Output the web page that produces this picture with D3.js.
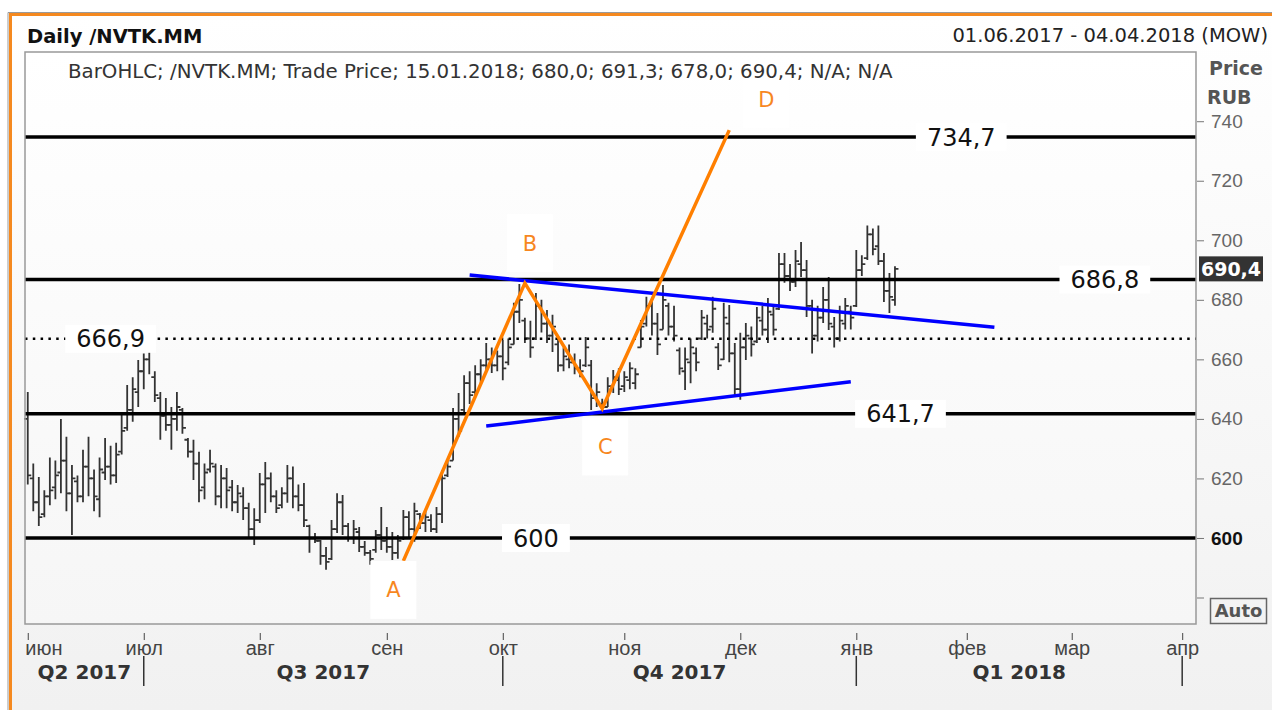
<!DOCTYPE html>
<html>
<head>
<meta charset="utf-8">
<script src="https://cdn.jsdelivr.net/npm/d3@7"></script>
<style>
  body { margin: 0; background: #fff; }
  svg { display: block; font-family: "DejaVu Sans", sans-serif; }
</style>
</head>
<body>
<svg id="chart" width="1272" height="710"></svg>
<script>
const title = "Daily /NVTK.MM";
const dateRange = "01.06.2017 - 04.04.2018 (MOW)";
const legendText = "BarOHLC; /NVTK.MM; Trade Price; 15.01.2018; 680,0; 691,3; 678,0; 690,4; N/A; N/A";

// trading calendar (MOEX holidays skipped)
const firstDay = "2017-06-01";
const lastDay = "2018-04-04";
const holidays = ["2017-06-12", "2017-11-06", "2018-01-01", "2018-01-02", "2018-01-08",
  "2018-02-23", "2018-03-08", "2018-03-09"];

const monthLabels = ["июн", "июл", "авг", "сен", "окт", "ноя", "дек", "янв", "фев", "мар", "апр"];
const quarterLabels = ["Q2 2017", "Q3 2017", "Q4 2017", "Q1 2018"];
const priceTicks = [580, 600, 620, 640, 660, 680, 700, 720, 740];
const lastPrice = 690.4;
const lastPriceLabel = "690,4";

// daily bars from 01.06.2017, [open, high, low, close]
const bars = [
  [640,649,618,621],[620,625,609,612],[612,620.5,604,607],[608,616,607,614],[614,627,611,616],
  [617,626,613,621],[622,640,615,626],[626,634,609,615],[615,624.5,601,620],[619,621,612,614],
  [614,629.6,612,624],[624,634,614,620],[620,623,609,614],[613,627,607,623],[622,633.6,619.5,624],
  [624,631,618,621],[621,632,618.5,628],[629,642,628,636],[637,651.4,636,643],[643,654,639,650],
  [649,659.8,644,656],[656,662,650,660],[660,666.9,655,664],[654,656,645.7,648],[647,649,633,641],
  [641,647,636,638],[638,644,629.6,640],[640,649,636,644],[643,643.7,635,637],[633,633.6,627,629],
  [629,633,619.5,625],[625,629,612,616],[617,625,613,622],[623,629.6,622,625],[624,625,611,614],
  [614,624.5,610,620],[620,623.5,610,616],[617,619.5,609,612],[612,617.8,608.4,615],[614,617,606,610],
  [610,611.8,600.3,603],[603,610,597.6,606],[606,621.8,605,618],[618,625.5,608.4,620],[620,622,612,614],
  [614,616,608.4,610],[611,617,610,615],[615,624.5,611.8,620],[620,624,610,614],[614,618,609,611],
  [611,618.5,603.7,606],[604,604.4,595,600],[600,601.7,598.3,599],[599,599.3,591,594],[594,597,589.3,592],
  [593,606,592.6,603],[603,615,601.7,612],[612,614.4,601,604],[604,605,598.7,600],[600,606,598,603],
  [602,603.7,595.3,597],[597,599,594,595],[595,596,591,593],[596,602.7,595,601],[601,610.4,596,599],
  [599,603.7,595,597],[597,602,592.6,595],[595,601,593,599],[600,609.4,599.3,607],[607,609,600,603],
  [603,611.8,598.7,609],[608,608.4,603,605],[605,609,602,607],[606,608,602,603],[603,610.4,601.7,608],
  [608,622.8,605,620],[621,626,620.5,624],[626,643.7,626,640],[640,648.7,634,636],[643,654.7,642,652],
  [652,656,645,648],[649,658,648,655],[655,660,652,658],[658,665.5,656.4,660],[660,664,655.4,658],
  [658,663,656,661],[661,666.5,653,657],[659,667,658,664],[665,679,665,676],[676,685.3,672.2,680],
  [673,674,665.5,667],[667,673,660.5,664],[667,682.3,666.5,678],[678,680,669,672],[672,676.6,665.5,668],
  [668,675,662.5,671],[665,666.5,655.8,658],[658,664,656,661],[660,665,657,659],[659,662,655,657],
  [657,660,654,656],[658,667.5,657.4,664],[658,659.8,643,647],[647,652,644,649],[645,646.8,641.7,644],
  [644,654,644,651],[650,656.4,648.7,654],[653,657,648,650],[651,656,649,654],[653,659,650,657],
  [652,657,650,655],[664,673.2,664,671],[672,681,671,678],[678,680,668,672],[672,675.6,661.5,665],
  [670,685,670,680],[678,679,668,671],[671,678,666,668],[663,664,654.8,657],[656,664,649.7,660],
  [659,667,652,664],[662,664,656,659],[667,676.6,666.5,674],[672,675,667,670],[671,681,668.9,677],
  [664,665.5,656.4,658],[660,679,659.8,674],[672,678.3,659,662],[662,665.5,647.4,650],[650,668.9,646.4,664],
  [664,672.2,659.8,668],[667,671,661,665],[666,677.6,665.5,674],[673,678,668,670],[670,680.6,665.5,676],
  [675,678,668,670],[677,695.7,676.6,692],[692,695.7,685.7,688],[688,692,683,686],[686,696.7,684.3,693],
  [692,699.4,687.7,690],[690,693.4,674.2,678],[678,680,662,668],[668,678,666,674],[674,684.3,672.2,680],
  [680,687.7,669.9,672],[671,674.2,664,667],[667,678,666,673],[672,680.6,670,678],[676,678,670,674],
  [678,696.7,677.6,690],[690,695,688,692],[694,705,693.4,702],[702,704,695,697],[698,705,691.7,693],
  [693,695.7,679.3,683],[683,689,675.6,681],[680,691.3,678,690.4]
];

// horizontal levels and the date their label sits on
const levelValues = [734.7, 686.8, 666.9, 641.7, 600];
const levelLabels = ["734,7", "686,8", "666,9", "641,7", "600"];
const levelLabelDates = ["2018-01-31", "2018-03-13", "2017-06-23", "2018-01-16", "2017-10-10"];
const levelDotted = [false, false, true, false, false];

// ABCD pattern
const abcdLabels = ["A", "B", "C", "D"];
const abcdDates = ["2017-09-06", "2017-10-06", "2017-10-26", "2017-11-29"];
const abcdPrices = [592.3, 685.6, 643.5, 737];

// triangle lines
const upperLine = [["2017-09-22", 688.3], ["2018-02-08", 670.8]];
const lowerLine = [["2017-09-27", 637.6], ["2017-12-29", 652.5]];

// ---------------------------------------------------------------
const W = 1272, H = 710;
const plot = { left: 25, right: 1196, top: 52, bottom: 624 };

const svg = d3.select("#chart");
const parseDate = d3.utcParse("%Y-%m-%d");
const fmtDate = d3.utcFormat("%Y-%m-%d");
const holidaySet = new Set(holidays);

const tradingDays = d3.utcDays(parseDate(firstDay), d3.utcDay.offset(parseDate(lastDay), 1))
  .filter(d => d.getUTCDay() % 6 !== 0 && !holidaySet.has(fmtDate(d)));
const dayIndex = new Map(tradingDays.map((d, i) => [fmtDate(d), i]));
const idx = s => dayIndex.get(s);

const x = d3.scaleLinear()
  .domain([-0.5, tradingDays.length - 0.5])
  .range([plot.left, plot.right]);

const y = d3.scaleLinear()
  .domain([571.1, 763.25])
  .range([plot.bottom, plot.top]);

// backgrounds
const defs = svg.append("defs");
const bgGrad = defs.append("linearGradient").attr("id", "bgGrad")
  .attr("x1", 0).attr("y1", 0).attr("x2", 0).attr("y2", 1);
bgGrad.append("stop").attr("offset", "0%").attr("stop-color", "#ffffff");
bgGrad.append("stop").attr("offset", "100%").attr("stop-color", "#f1f1f1");
const plotGrad = defs.append("linearGradient").attr("id", "plotGrad")
  .attr("x1", 0).attr("y1", 0).attr("x2", 0).attr("y2", 1);
plotGrad.append("stop").attr("offset", "0%").attr("stop-color", "#ffffff");
plotGrad.append("stop").attr("offset", "100%").attr("stop-color", "#f6f6f6");

svg.append("rect").attr("width", W).attr("height", H).attr("fill", "#fff");
svg.append("rect").attr("x", 11).attr("y", 15).attr("width", W - 11).attr("height", H - 15)
  .attr("fill", "url(#bgGrad)");

// outer frame: grey hairline then orange
svg.append("path").attr("d", `M8,${H} V12.5 H${W}`)
  .attr("fill", "none").attr("stroke", "#9a9a9a").attr("stroke-width", 1);
svg.append("path").attr("d", `M10.5,${H} V14.5 H${W}`)
  .attr("fill", "none").attr("stroke", "#f5891f").attr("stroke-width", 3);

// header
svg.append("text").attr("x", 27).attr("y", 43)
  .attr("font-weight", "bold").attr("font-size", 19.5).attr("fill", "#111")
  .text(title);
svg.append("text").attr("x", 1268).attr("y", 42).attr("text-anchor", "end")
  .attr("font-size", 19.5).attr("fill", "#222")
  .text(dateRange);

// plot area
svg.append("rect")
  .attr("x", plot.left).attr("y", plot.top)
  .attr("width", plot.right - plot.left).attr("height", plot.bottom - plot.top)
  .attr("fill", "url(#plotGrad)");

// bars
const barG = svg.append("g").attr("stroke", "#333").attr("stroke-width", 1.8);
barG.selectAll("path").data(bars).join("path")
  .attr("fill", "none")
  .attr("d", (d, i) => {
    const cx = x(i);
    return `M${cx},${y(d[1])}V${y(d[2])}` +
      `M${cx - 3.5},${y(d[0])}H${cx}` +
      `M${cx},${y(d[3])}H${cx + 3.5}`;
  });

// horizontal levels
const levels = levelValues.map((v, i) => ({
  value: v, label: levelLabels[i], at: idx(levelLabelDates[i]), dotted: levelDotted[i]
}));
const levelG = svg.append("g");
levelG.selectAll("line").data(levels).join("line")
  .attr("x1", plot.left).attr("x2", plot.right)
  .attr("y1", d => y(d.value)).attr("y2", d => y(d.value))
  .attr("stroke", "#000")
  .attr("stroke-width", d => d.dotted ? 2.5 : 3.5)
  .attr("stroke-dasharray", d => d.dotted ? "2.5 5.3" : null);

const levelLabelG = levelG.selectAll("g.lvl").data(levels).join("g")
  .attr("class", "lvl")
  .attr("transform", d => `translate(${x(d.at)},${y(d.value)})`);
levelLabelG.append("text")
  .attr("text-anchor", "middle").attr("dy", "0.36em")
  .attr("font-size", 24).attr("fill", "#111")
  .text(d => d.label);
levelLabelG.each(function () {
  const g = d3.select(this);
  const b = g.select("text").node().getBBox();
  g.insert("rect", "text")
    .attr("x", b.x - 11).attr("y", -14)
    .attr("width", b.width + 22).attr("height", 28)
    .attr("fill", "#fff");
});

// triangle lines
const lineGen = d3.line().x(d => x(idx(d[0]))).y(d => y(d[1]));
svg.append("g").selectAll("path").data([upperLine, lowerLine]).join("path")
  .attr("d", lineGen)
  .attr("fill", "none").attr("stroke", "#0000ff").attr("stroke-width", 3.5);

// ABCD
const abcd = abcdLabels.map((l, i) => ({ label: l, i: idx(abcdDates[i]), price: abcdPrices[i] }));
svg.append("path")
  .datum(abcd)
  .attr("d", d3.line().x(d => x(d.i)).y(d => y(d.price)))
  .attr("fill", "none").attr("stroke", "#ff7f00").attr("stroke-width", 3.5)
  .attr("stroke-linejoin", "miter");

const labelOffset = { A: [-10, 29], B: [5, -40], C: [3, 38], D: [37, -31] };
const abcdLabelG = svg.append("g").selectAll("g").data(abcd).join("g")
  .attr("transform", d => `translate(${x(d.i) + labelOffset[d.label][0]},${y(d.price) + labelOffset[d.label][1]})`);
abcdLabelG.append("rect")
  .attr("x", -23).attr("y", -29).attr("width", 46).attr("height", 58)
  .attr("fill", "#fff");
abcdLabelG.append("text")
  .attr("text-anchor", "middle").attr("dy", "0.36em")
  .attr("font-size", 21).attr("fill", "#f7871f")
  .text(d => d.label);

// legend line sits on top of everything in the plot
svg.append("text").attr("x", 68).attr("y", 78)
  .attr("font-size", 19.8).attr("fill", "#333")
  .text(legendText);

// plot frame
svg.append("rect")
  .attr("x", plot.left).attr("y", plot.top)
  .attr("width", plot.right - plot.left).attr("height", plot.bottom - plot.top)
  .attr("fill", "none").attr("stroke", "#999").attr("stroke-width", 1.5);

// right price axis
const yAxis = svg.append("g")
  .attr("transform", `translate(${plot.right + 1},0)`)
  .call(d3.axisRight(y).tickValues(priceTicks).tickSize(7).tickPadding(7).tickFormat(d3.format("d")));
yAxis.select(".domain").remove();
yAxis.selectAll(".tick line").attr("stroke", "#777");
yAxis.selectAll(".tick text")
  .attr("font-family", null).attr("font-size", 19)
  .attr("display", d => d === 580 ? "none" : null)
  .attr("font-weight", d => d === 600 ? "bold" : null)
  .attr("fill", d => d === 600 ? "#111" : "#666");

svg.append("text").attr("x", 1209).attr("y", 75)
  .attr("font-weight", "bold").attr("font-size", 19).attr("fill", "#555").text("Price");
svg.append("text").attr("x", 1207).attr("y", 104)
  .attr("font-weight", "bold").attr("font-size", 19).attr("fill", "#555").text("RUB");

// last price tag
svg.append("rect").attr("x", plot.right + 3).attr("y", y(lastPrice) - 12.5)
  .attr("width", 64).attr("height", 25).attr("fill", "#333");
svg.append("text").attr("x", plot.right + 35).attr("y", y(lastPrice)).attr("dy", "0.36em")
  .attr("text-anchor", "middle").attr("font-weight", "bold").attr("font-size", 19)
  .attr("fill", "#fff").text(lastPriceLabel);

// Auto box
svg.append("rect").attr("x", 1210.5).attr("y", 598.5).attr("width", 56).attr("height", 25)
  .attr("fill", "none").attr("stroke", "#666").attr("stroke-width", 1.5);
svg.append("text").attr("x", 1238.5).attr("y", 611).attr("dy", "0.36em")
  .attr("text-anchor", "middle").attr("font-weight", "bold").attr("font-size", 18)
  .attr("fill", "#555").text("Auto");

// time axis: first trading day of every month
const monthTicks = tradingDays
  .map((d, i) => ({ d, i }))
  .filter((e, k, arr) => k === 0 || e.d.getUTCMonth() !== arr[k - 1].d.getUTCMonth());

const xAxis = svg.append("g")
  .attr("transform", `translate(0,${plot.bottom + 9})`)
  .call(d3.axisBottom(x).tickValues(monthTicks.map(e => e.i)).tickSize(7).tickPadding(1)
    .tickFormat((d, k) => monthLabels[k]));
xAxis.select(".domain").remove();
xAxis.selectAll(".tick line").attr("stroke", "#444");
xAxis.selectAll(".tick text")
  .attr("font-family", null).attr("font-size", 20).attr("fill", "#444")
  .attr("text-anchor", (d, k) => k === 0 ? "start" : "middle")
  .attr("dx", (d, k) => k === 0 ? -3 : 0);

// quarters
const quarterStarts = monthTicks.filter(e => e.d.getUTCMonth() % 3 === 0).map(e => x(e.i));
const quarterEdges = [plot.left, ...quarterStarts];
svg.append("g").selectAll("line").data(quarterStarts).join("line")
  .attr("x1", d => d).attr("x2", d => d)
  .attr("y1", 656).attr("y2", 686)
  .attr("stroke", "#333").attr("stroke-width", 1.5);
svg.append("g").selectAll("text").data(quarterLabels).join("text")
  .attr("x", (d, k) => (quarterEdges[k] + quarterEdges[k + 1]) / 2)
  .attr("y", 672).attr("dy", "0.36em")
  .attr("text-anchor", "middle").attr("font-weight", "bold").attr("font-size", 20)
  .attr("fill", "#333")
  .text(d => d);
</script>
</body>
</html>
